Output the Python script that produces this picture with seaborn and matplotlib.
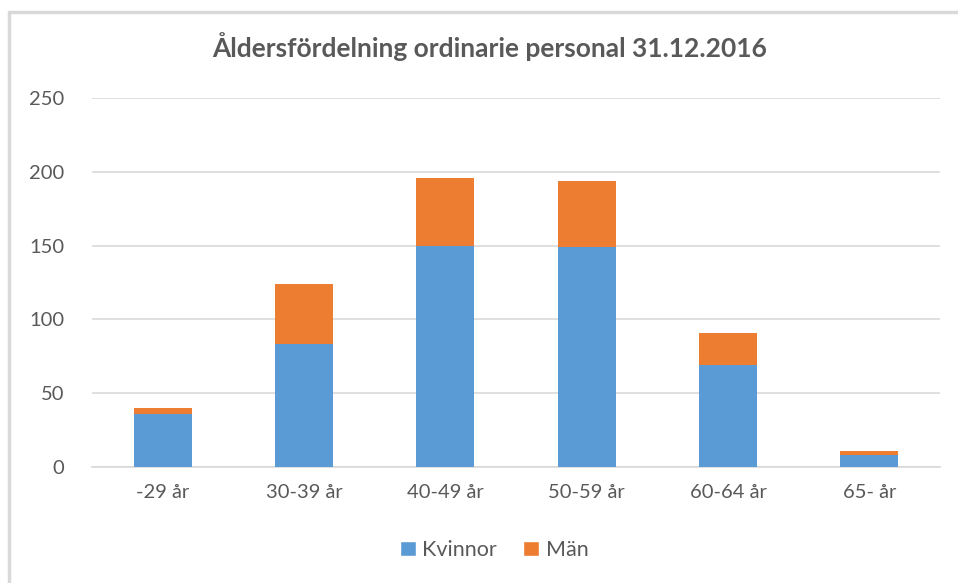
import matplotlib
matplotlib.use("Agg")
import matplotlib.pyplot as plt
import seaborn as sns
import pandas as pd
from matplotlib.patches import Patch
from matplotlib.lines import Line2D

# data
age_groups = ["-29 år", "30-39 år", "40-49 år", "50-59 år", "60-64 år", "65- år"]
kvinnor = [36, 83, 150, 149, 69, 8]
man = [4, 41, 46, 45, 22, 3]

df = pd.DataFrame({"Ålder": age_groups, "Kvinnor": kvinnor, "Män": man})
df["Totalt"] = df["Kvinnor"] + df["Män"]

blue = "#5B9BD5"
orange = "#ED7D31"
text_col = "#595959"

sns.set_style("white")
plt.rcParams["font.family"] = ["Lato", "DejaVu Sans"]

fig = plt.figure(figsize=(9.58, 5.83), dpi=100)
ax = fig.add_axes([92 / 958, 1 - 467 / 583, 848 / 958, 369 / 583])

# stacked bars: total (orange) behind, women (blue) in front
sns.barplot(data=df, x="Ålder", y="Totalt", color=orange, width=0.41,
            saturation=1, edgecolor="none", ax=ax, zorder=2)
sns.barplot(data=df, x="Ålder", y="Kvinnor", color=blue, width=0.41,
            saturation=1, edgecolor="none", ax=ax, zorder=3)

ax.set_ylim(0, 250)
ax.set_yticks(range(0, 251, 50))
ax.yaxis.grid(True, color="#D9D9D9", linewidth=1.2, zorder=0)
ax.set_axisbelow(True)
for s in ["top", "right", "left"]:
    ax.spines[s].set_visible(False)
ax.spines["bottom"].set_color("#D9D9D9")
ax.spines["bottom"].set_linewidth(1.2)
ax.set_xlabel("")
ax.set_ylabel("")
ax.tick_params(axis="both", length=0, colors=text_col, labelsize=14.5)
ax.tick_params(axis="y", pad=20)
ax.tick_params(axis="x", pad=12)

fig.text(490 / 958, 1 - 47 / 583, "Åldersfördelning ordinarie personal 31.12.2016",
         ha="center", va="center", fontsize=19, fontweight="bold", color=text_col)

handles = [Patch(facecolor=blue, label="Kvinnor"), Patch(facecolor=orange, label="Män")]
fig.legend(handles=handles, loc="center", bbox_to_anchor=(494 / 958, 1 - 550 / 583),
           ncol=2, frameon=False, fontsize=15.5, handlelength=0.75, handleheight=0.75,
           handletextpad=0.3, columnspacing=1.2, labelcolor=text_col)

# chart border (left and top edges visible in the reference)
fig.add_artist(Line2D([9 / 958, 9 / 958], [0, 1 - 12 / 583], color="#D9D9D9", linewidth=2.5,
                      transform=fig.transFigure))
fig.add_artist(Line2D([9 / 958, 1], [1 - 12 / 583, 1 - 12 / 583], color="#D9D9D9", linewidth=2.5,
                      transform=fig.transFigure))

fig.savefig("out.png", dpi=100)
